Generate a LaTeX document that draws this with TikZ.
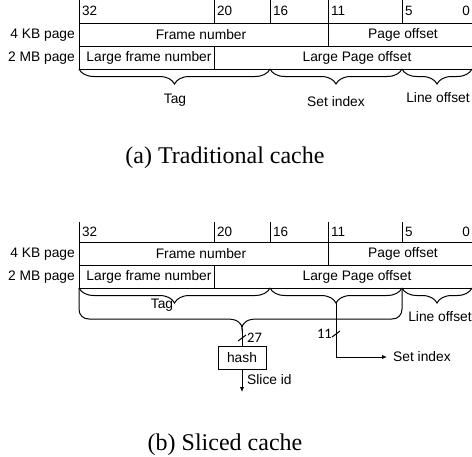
\documentclass[tikz,border=0pt]{standalone}
\usepackage{fontspec}
\setmainfont{Liberation Sans}
\newfontfamily\capfont{Liberation Serif}
\newfontfamily\numfont{Carlito}
\usetikzlibrary{decorations.pathreplacing,arrows.meta}
\begin{document}
\begin{tikzpicture}[x=1pt,y=-1pt,
  ln/.style={line width=1pt, draw=black},
  lbl/.style={font=\fontsize{13.8}{16}\selectfont, inner sep=0pt},
  bit/.style={font=\fontsize{13.5}{16}\selectfont, inner sep=0pt},
  num/.style={font=\numfont\fontsize{14.5}{16}\selectfont, inner sep=0pt},
  brc/.style={ln, decorate, decoration={brace, mirror, amplitude=15pt}},
  captxt/.style={font=\capfont\fontsize{24}{26}\selectfont, inner sep=0pt},
  arr/.style={ln, -{Latex[length=5pt,width=4.5pt]}}
]
\useasboundingbox (0,0) rectangle (472,456);

\foreach \dy/\nm/\tt/\by in {0/a/-2/11, 219/b/3/13}{
\begin{scope}[shift={(0,\dy)}]
  % frame lines
  \draw[ln] (79,\tt) -- (79,69);
  \foreach \x in {214,270,328,402} \draw[ln] (\x,\tt) -- (\x,23);
  \draw[ln] (79,23) -- (472,23);
  \draw[ln] (79,46) -- (472,46);
  \draw[ln] (79,69) -- (472,69);
  \draw[ln] (328,23) -- (328,46);
  \draw[ln] (214,46) -- (214,69);
  % bit numbers
  \node[bit, anchor=west] (b32\nm) at (82,\by) {32};
  \node[bit, anchor=west] (b20\nm) at (217,\by) {20};
  \node[bit, anchor=west] (b16\nm) at (273,\by) {16};
  \node[bit, anchor=west] (b11\nm) at (331,\by) {11};
  \node[bit, anchor=west] (b5\nm) at (405,\by) {5};
  \node[bit, anchor=east] (b0\nm) at (470,\by) {0};
  % row labels
  \node[lbl, anchor=east] (kb\nm) at (75,35) {4 KB page};
  \node[lbl, anchor=east] (mb\nm) at (75,58) {2 MB page};
  % fields
  \node[lbl] (fn\nm) at (201,35) {Frame number};
  \node[lbl] (po\nm) at (403,35) {Page offset};
  \node[lbl] (lfn\nm) at (149,58) {Large frame number};
  \node[lbl] (lpo\nm) at (357,58) {Large Page offset};
  % small braces
  \draw[brc] (79,69) -- (270,69);
  \draw[brc] (270,69) -- (402,69);
  \draw[brc] (402,69) -- (472,69);
\end{scope}
}

% (a) labels
\node[lbl] (taga) at (175,100) {Tag};
\node[lbl] (sia) at (336,102) {Set index};
\node[lbl] (loa) at (438,98) {Line offset};
\node[captxt] (capa) at (225,158) {(a) Traditional cache};

% (b) labels
\node[lbl] (tagb) at (162,305) {Tag};
\node[lbl] (lob) at (440,317) {Line offset};

% big brace
\draw[ln] (79,288) -- (79,309) .. controls (79,315) and (83,319) .. (89,319)
  -- (227,319) .. controls (236,319) and (242,322) .. (242,329)
  .. controls (242,322) and (248,319) .. (257,319)
  -- (392,319) .. controls (398,319) and (402,315) .. (402,309) -- (402,288);
\coordinate (bigtip) at (242,329);
\coordinate (sitip) at (336,303);

% hash
\node[draw, line width=1pt, draw=black, minimum width=48pt, minimum height=23pt,
  inner sep=0pt, font=\fontsize{13.8}{16}\selectfont] (hash) at (242,357.5) {hash};
\draw[ln] (bigtip) -- (hash.north);
\draw[ln] (238,341) -- (246,335);
\node[num, anchor=west] (n27) at (247,338) {27};
\coordinate (slice) at (242,392);
\draw[arr] (hash.south) -- (slice);
\node[lbl, anchor=west] (sliceid) at (247,380) {Slice id};

% set index
\coordinate (siend) at (387,357);
\draw[arr] (sitip) |- (siend);
\draw[ln] (332,337) -- (340,331);
\node[num, anchor=east] (n11) at (332,334) {11};
\node[lbl, anchor=west] (sib) at (393,357) {Set index};

\node[captxt] (capb) at (225,445) {(b) Sliced cache};
\end{tikzpicture}
\end{document}
